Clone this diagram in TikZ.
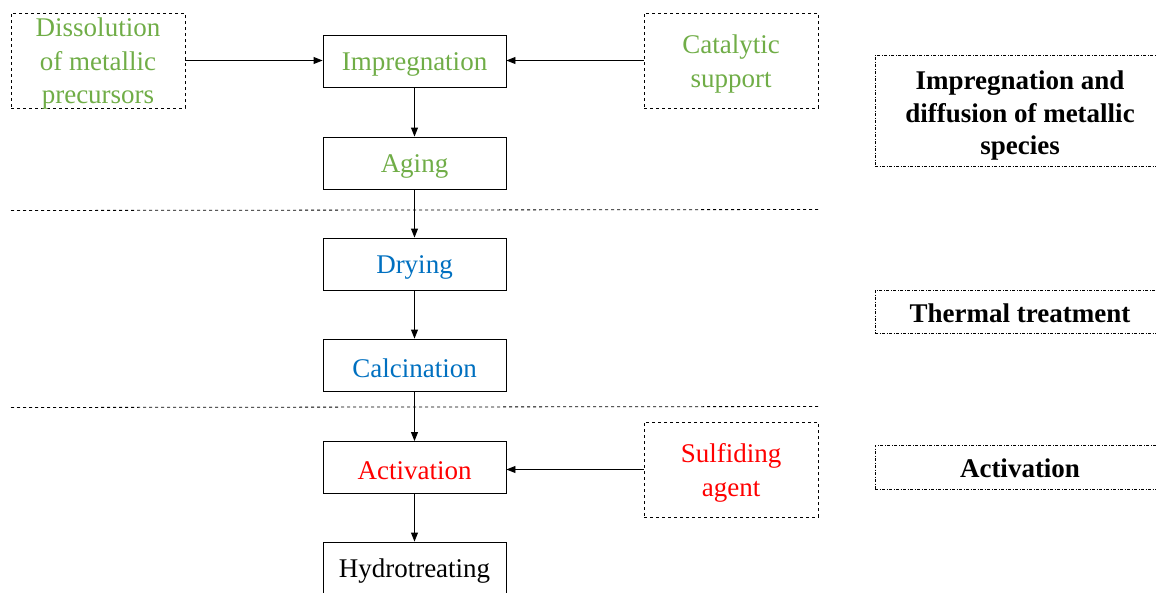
\documentclass[tikz,border=0pt]{standalone}
\usepackage{fontspec}
\setmainfont{Liberation Serif}
\usetikzlibrary{arrows.meta}
\definecolor{stepgreen}{HTML}{70AD47}
\definecolor{stepblue}{HTML}{0070C0}
\definecolor{stepred}{HTML}{FF0000}
\tikzset{
  txt/.style={font=\fontsize{27}{33.5}\selectfont, align=center, inner sep=0pt},
  boldtxt/.style={font=\fontsize{27}{32.5}\selectfont\bfseries, align=center, inner sep=0pt},
  stepbox/.style={draw, line width=0.9pt, minimum width=183pt, minimum height=52pt, inner sep=0pt},
  inbox/.style={draw, dashed, line width=0.8pt, minimum width=174pt, minimum height=95pt, inner sep=0pt},
  phasebox/.style={draw, dash pattern=on 3pt off 1.5pt on 1pt off 1.5pt, line width=0.8pt,
    minimum width=290pt, inner sep=0pt},
  % box caption, lowered a little so that the letters sit centred in the frame
  cap/.style 2 args={label={[txt, text=#1, yshift=-3.5pt]center:#2}},
  bcap/.style 2 args={label={[boldtxt, yshift=-#1]center:#2}},
  flow/.style={-{Triangle[length=9pt,width=7pt]}, line width=0.9pt},
  sep/.style={dashed, line width=0.8pt}
}
\begin{document}
\begin{tikzpicture}[x=1pt,y=-1pt]
\useasboundingbox (0,0) rectangle (1156,592);
\clip (0,0) rectangle (1156,592);

% main process chain
\node[stepbox, cap={stepgreen}{Impregnation}] (imp) at (414.5,61) {};
\node[stepbox, cap={stepgreen}{Aging}] (age) at (414.5,163) {};
\node[stepbox, cap={stepblue}{Drying}] (dry) at (414.5,264) {};
\node[stepbox, cap={stepblue}{Calcination}] (cal) at (414.5,365) {};
\node[stepbox, cap={stepred}{Activation}] (act) at (414.5,467.5) {};
\node[stepbox, cap={black}{Hydrotreating}] (hyd) at (414.5,568) {};

% inputs
\node[inbox, cap={stepgreen}{Dissolution\\of metallic\\precursors}] (dis) at (98,60.5) {};
\node[inbox, cap={stepgreen}{Catalytic\\support}] (sup) at (731,60.5) {};
\node[inbox, cap={stepred}{Sulfiding\\agent}] (sul) at (731,469.5) {};

% phase labels
\node[phasebox, minimum height=111pt, bcap={5.5pt}{Impregnation and\\diffusion of metallic\\species}] (ph1) at (1020,110.5) {};
\node[phasebox, minimum height=43pt, bcap={2pt}{Thermal treatment}] (ph2) at (1020,311.5) {};
\node[phasebox, minimum height=44pt, bcap={1.5pt}{Activation}] (ph3) at (1020,467) {};

% phase separators
\coordinate (s1a) at (11,210.5);
\coordinate (s1b) at (818,209.5);
\coordinate (s2a) at (11,407.5);
\coordinate (s2b) at (818,406.5);
\draw[sep] (s1a) -- (s1b);
\draw[sep] (s2a) -- (s2b);

% connectors
\draw[flow] (imp) -- (age);
\draw[flow] (age) -- (dry);
\draw[flow] (dry) -- (cal);
\draw[flow] (cal) -- (act);
\draw[flow] (act) -- (hyd);
\draw[flow] (dis.east) -- (imp.west |- dis.east);
\draw[flow] (sup.west) -- (imp.east |- sup.west);
\draw[flow] (sul.west) -- (act.east |- sul.west);
\end{tikzpicture}
\end{document}
